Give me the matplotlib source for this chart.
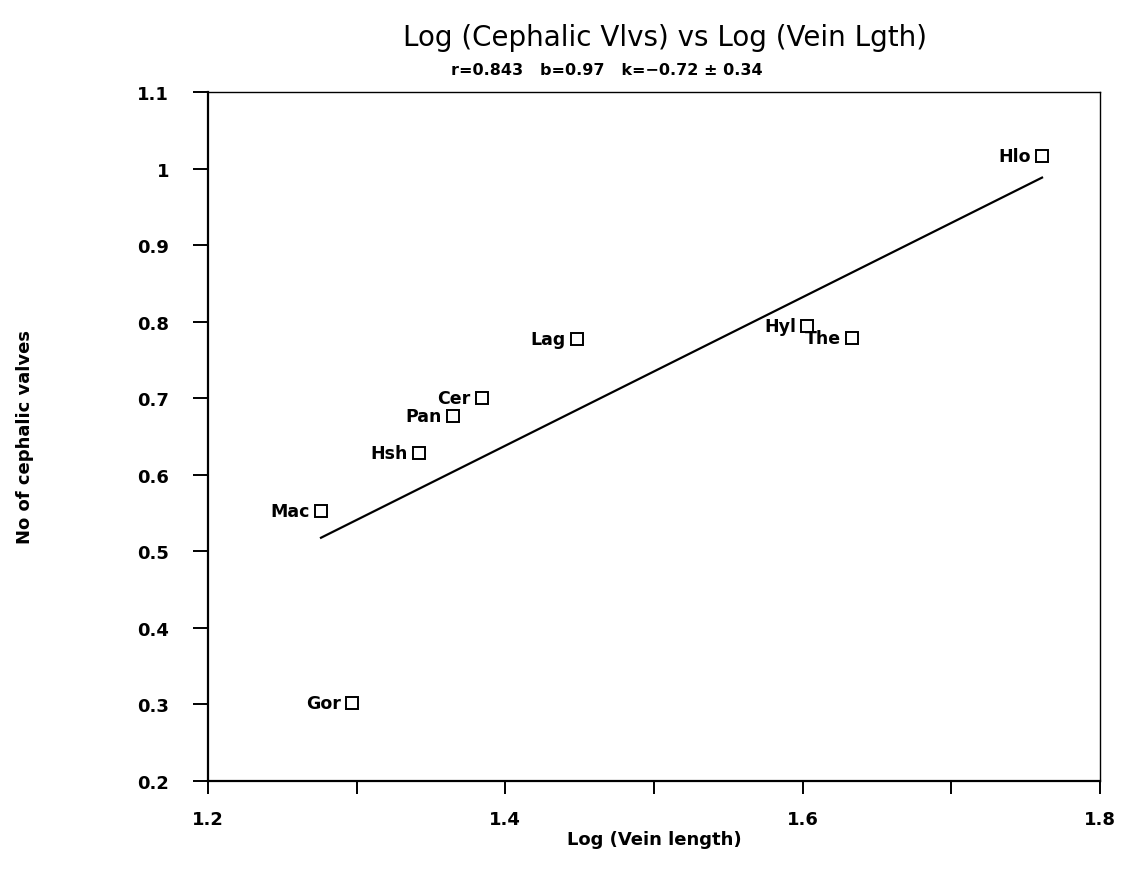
#log cephalic valves vs log vein length
#scatter with labels and the fitted line
import numpy as np
import matplotlib
matplotlib.use('Agg')
from matplotlib import pyplot as plt
from matplotlib.ticker import FixedLocator, FuncFormatter

#data
names = ['Hlo', 'Hyl', 'The', 'Lag', 'Cer', 'Pan', 'Hsh', 'Mac', 'Gor']
log_vein = [1.761, 1.603, 1.633, 1.448, 1.384, 1.365, 1.342, 1.276, 1.297]
log_valves = [1.016, 0.794, 0.779, 0.777, 0.700, 0.677, 0.628, 0.552, 0.302]

#fit values from the subtitle
r_val = 0.843
b_val = 0.97
k_val = -0.72
k_err = 0.34

x_ticks = [1.2, 1.4, 1.6, 1.8]
x_minor = [1.3, 1.5, 1.7]
y_ticks = [0.2, 0.3, 0.4, 0.5, 0.6, 0.7, 0.8, 0.9, 1.0, 1.1]

plt.rcParams['font.family'] = 'DejaVu Sans'

fig = plt.figure(figsize=(11.22, 8.79), dpi=100)
ax = fig.add_axes([0.1854, 0.1104, 0.795, 0.7838])

#regression line across the data range
xs = np.array([min(log_vein), max(log_vein)])
ax.plot(xs, k_val + b_val * xs, color='black', lw=1.6, zorder=2)

ax.plot(log_vein, log_valves, 's', ms=8, mfc='white', mec='black', mew=1.4, zorder=3)
for n, x, y in zip(names, log_vein, log_valves):
    ax.annotate(n, (x, y), xytext=(-8, 0), textcoords='offset points',
                ha='right', va='center', fontsize=12.5, fontweight='bold')

ax.set_xlim(1.2, 1.8)
ax.set_ylim(0.2, 1.1)
ax.xaxis.set_major_locator(FixedLocator(x_ticks))
ax.xaxis.set_minor_locator(FixedLocator(x_minor))
ax.yaxis.set_major_locator(FixedLocator(y_ticks))
ax.yaxis.set_major_formatter(FuncFormatter(lambda v, p: f'{v:g}'))

ax.tick_params(axis='x', which='both', direction='out', length=9, width=1.4,
               pad=12, labelsize=13)
ax.tick_params(axis='y', direction='out', length=11, width=1.4, pad=17, labelsize=13)
for lab in ax.get_xticklabels() + ax.get_yticklabels():
    lab.set_fontweight('bold')

ax.spines['left'].set_linewidth(1.6)
ax.spines['bottom'].set_linewidth(1.6)
ax.spines['top'].set_linewidth(1.0)
ax.spines['right'].set_linewidth(1.0)

ax.set_xlabel('Log (Vein length)', fontsize=13, fontweight='bold', labelpad=1)
ax.set_ylabel('No of cephalic valves', fontsize=13, fontweight='bold', labelpad=74)

fig.text(0.593, 0.957, 'Log (Cephalic Vlvs) vs Log (Vein Lgth)', ha='center',
         va='center', fontsize=20)
fig.text(0.541, 0.920, f'r={r_val}   b={b_val}   k={k_val:.2f} \u00b1 {k_err}'.replace('-', '\u2212'),
         ha='center', va='center', fontsize=11.5, fontweight='bold')

fig.savefig('out.png', dpi=100)
